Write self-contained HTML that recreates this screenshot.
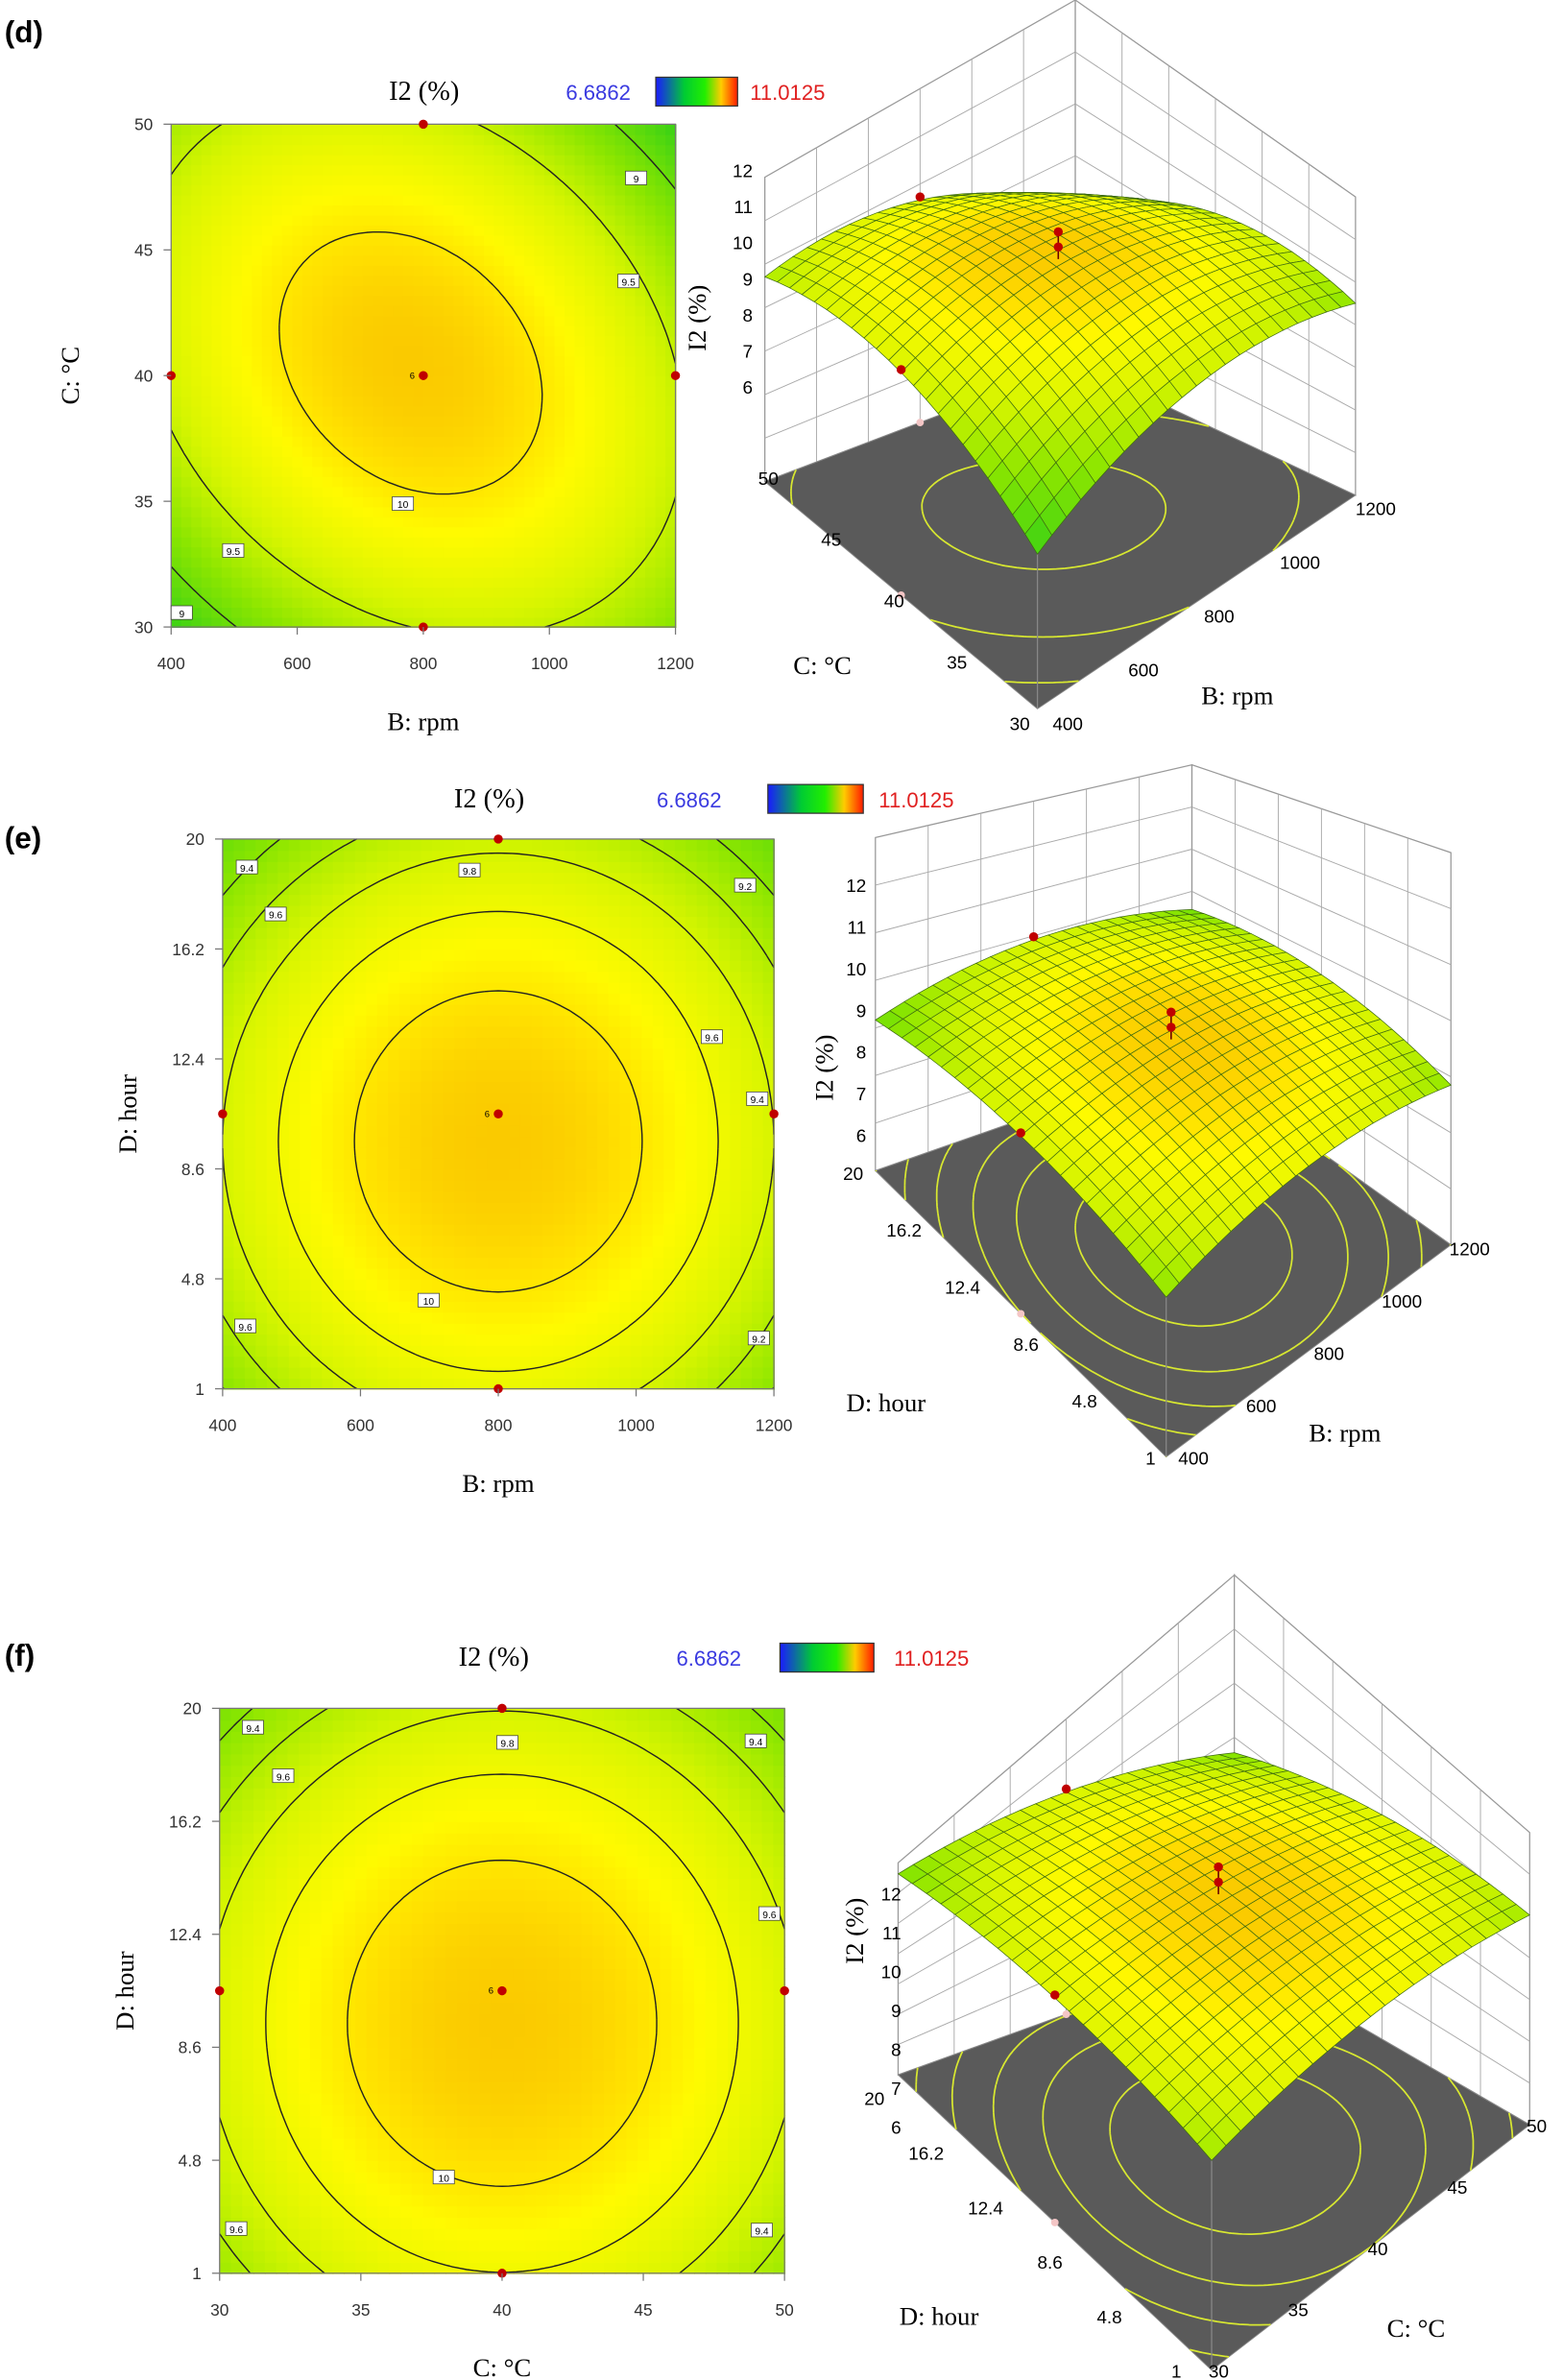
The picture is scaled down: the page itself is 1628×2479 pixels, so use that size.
<!DOCTYPE html>
<html><head><meta charset="utf-8"><style>
html,body{margin:0;padding:0;background:#fff;}
svg{display:block;font-family:"Liberation Serif",serif;}
.sans{font-family:"Liberation Sans",sans-serif;}
</style></head><body>
<svg id="fig" xmlns="http://www.w3.org/2000/svg" width="1628" height="2479" viewBox="0 0 1032 1571.5" preserveAspectRatio="none">
<defs>
<linearGradient id="cbar" x1="0" x2="1" y1="0" y2="0">
<stop offset="0" stop-color="#1a1aff"/><stop offset="0.35" stop-color="#00cc33"/><stop offset="0.6" stop-color="#22ee00"/><stop offset="0.8" stop-color="#ffcc00"/><stop offset="1" stop-color="#ff1a00"/>
</linearGradient>
</defs>
<g id="root"></g>
</svg>
<script>
// ---- data ----
const bTicks=["400","600","800","1000","1200"];
const cTicks=["30","35","40","45","50"];
const dTicks=["1","4.8","8.6","12.4","16.2","20"];
const zTicks=["12","11","10","9","8","7","6"];
const levelsD=[9,9.5,10];
const levelsE=[9.2,9.4,9.6,9.8,10];
const levelsF=[9.2,9.4,9.6,9.8,10];
const modelD={M:10.15,qx:0.59,qy:0.59,c:0.3,x0:-0.05,y0:0.05};
const modelE={M:10.15,qx:0.55,qy:0.5,c:0,x0:0,y0:-0.1};
const modelF={M:10.15,qx:0.5,qy:0.45,c:0,x0:0,y0:-0.115};
const designU=[0,0.5,1,0.5,0.5];
const designV=[0.5,1,0.5,0,0.5];

const NS="http://www.w3.org/2000/svg";
const root=document.getElementById('root');
function el(tag,attrs,parent){const e=document.createElementNS(NS,tag);for(const k in attrs)e.setAttribute(k,attrs[k]);(parent||root).appendChild(e);return e;}
function txt(s,x,y,attrs,parent){const t=el('text',Object.assign({x:x,y:y},attrs||{}),parent);t.textContent=s;return t;}
function f(m,x,y){const dx=x-m.x0,dy=y-m.y0;return m.M-m.qx*dx*dx-m.qy*dy*dy-m.c*dx*dy;}
const cs=[[8.7,[60,210,20]],[9.2,[140,230,0]],[9.6,[215,245,0]],[9.9,[255,250,0]],[10.05,[255,222,0]],[10.2,[248,192,0]]];
function color(v){if(v<=cs[0][0])return 'rgb(60,210,20)';
 for(let i=0;i<cs.length-1;i++){const a=cs[i],b=cs[i+1];if(v<=b[0]){const s=(v-a[0])/(b[0]-a[0]);
 return 'rgb('+a[1].map((c,j)=>Math.round(c+(b[1][j]-c)*s)).join(',')+')';}}return 'rgb(248,192,0)';}
function contourPath(m,L,N,map){let d='';
 const val=(i,j)=>f(m,2*i/N-1,2*j/N-1);
 for(let i=0;i<N;i++)for(let j=0;j<N;j++){
  const P=[[i,j],[i+1,j],[i+1,j+1],[i,j+1]];const V=P.map(p=>val(p[0],p[1]));const pts=[];
  for(let k=0;k<4;k++){const a=V[k],b=V[(k+1)%4];if((a-L)*(b-L)<0){const s=(L-a)/(b-a);const p=P[k],q=P[(k+1)%4];
   pts.push(map((p[0]+(q[0]-p[0])*s)/N,(p[1]+(q[1]-p[1])*s)/N));}}
  for(let k=0;k+1<pts.length;k+=2)d+='M'+pts[k][0].toFixed(1)+' '+pts[k][1].toFixed(1)+'L'+pts[k+1][0].toFixed(1)+' '+pts[k+1][1].toFixed(1);}
 return d;}

function contour2D(p){
 const g=el('g',{});
 
 
 const W=p.x1-p.x0,H=p.y1-p.y0,N=50;
 const map=(u,v)=>[p.x0+u*W,p.y1-v*H];
 for(let i=0;i<N;i++)for(let j=0;j<N;j++){
  const v=f(p.m,2*(i+0.5)/N-1,2*(j+0.5)/N-1);
  el('rect',{x:p.x0+i*W/N,y:p.y1-(j+1)*H/N,width:W/N+0.6,height:H/N+0.6,fill:color(v)},g);}
 p.levels.forEach(L=>{const c=el('path',{d:contourPath(p.m,L,80,map),stroke:'#222',fill:'none','stroke-width':0.9},g);
  
  });
 el('rect',{x:p.x0,y:p.y0,width:W,height:H,fill:'none',stroke:'#777','stroke-width':0.8},g);
 p.labels.forEach(l=>{el('rect',{x:l[0]-7,y:l[1]-5,width:14,height:9,fill:'#fff',stroke:'#444','stroke-width':0.5},g);
  txt(l[2],l[0],l[1]+2.5,{'font-size':6.5,'text-anchor':'middle',class:'sans'},g);});
 for(let k=0;k<designU.length;k++){const q=map(designU[k],designV[k]);
  const dot=el('circle',{cx:q[0],cy:q[1],r:3,fill:'#c00000'},g);
  
  }
 const cq=map(0.5,0.5);txt('6',cq[0]-9,cq[1]+2,{'font-size':6,class:'sans'},g);
 p.xt.forEach((s,i)=>{const x=p.x0+i*W/(p.xt.length-1);el('line',{x1:x,x2:x,y1:p.y1,y2:p.y1+5,stroke:'#777','stroke-width':0.8},g);
  txt(s,x,p.y1+28,{'font-size':11,'text-anchor':'middle',class:'sans',fill:'#333'},g);});
 p.yt.forEach((s,i)=>{const y=p.y1-i*H/(p.yt.length-1);el('line',{x1:p.x0-5,x2:p.x0,y1:y,y2:y,stroke:'#777','stroke-width':0.8},g);
  txt(s,p.x0-12,y+4,{'font-size':11,'text-anchor':'end',class:'sans',fill:'#333'},g);});
 const xt=txt(p.xTitle,(p.x0+p.x1)/2,p.y1+68,{'font-size':17,'text-anchor':'middle'},g);
 
 
 const yt=txt(p.yTitle,0,0,{'font-size':17,'text-anchor':'middle',transform:'translate('+p.ytx+','+((p.y0+p.y1)/2)+') rotate(-90)'},g);
 
 
}

function surface3D(p){
 const g=el('g',{});
 
 
 const F=p.F;
 const floor=(u,v)=>[F[0][0]*(1-u)*(1-v)+F[1][0]*u*(1-v)+F[2][0]*(1-u)*v+F[3][0]*u*v,
                    F[0][1]*(1-u)*(1-v)+F[1][1]*u*(1-v)+F[2][1]*(1-u)*v+F[3][1]*u*v];
 const surf=(u,v)=>{const q=floor(u,v);return [q[0],q[1]-p.k*(f(p.m,2*u-1,2*v-1)-p.zf)];};
 const T=[null,[F[1][0],p.top[2]],[F[2][0],p.top[0]],[F[3][0],p.top[1]]];
 const wall=(A,B,TA,TB)=>{el('polygon',{points:[A,B,TB,TA].map(q=>q.join(',')).join(' '),fill:'#fff',stroke:'#999','stroke-width':0.8},g);
  for(let s=1;s<6;s++){const t=s/6;el('line',{x1:A[0]+(B[0]-A[0])*t,y1:A[1]+(B[1]-A[1])*t,x2:TA[0]+(TB[0]-TA[0])*t,y2:TA[1]+(TB[1]-TA[1])*t,stroke:'#aaa','stroke-width':0.6},g);}
  for(let s=1;s<7;s++){const t=s/7;el('line',{x1:A[0]+(TA[0]-A[0])*t,y1:A[1]+(TA[1]-A[1])*t,x2:B[0]+(TB[0]-B[0])*t,y2:B[1]+(TB[1]-B[1])*t,stroke:'#aaa','stroke-width':0.6},g);}};
 wall(F[2],F[3],T[2],T[3]);wall(F[3],F[1],T[3],T[1]);
 const fl=el('polygon',{points:[F[0],F[1],F[3],F[2]].map(q=>q.join(',')).join(' '),fill:'#5a5a5a',stroke:'#888','stroke-width':0.6},g);
 
 
 p.levels.forEach(L=>el('path',{d:contourPath(p.m,L,60,floor),stroke:'#d8e830',fill:'none','stroke-width':1.1},g));
 [[0,0.5],[0.5,1]].forEach(q=>{const a=floor(q[0],q[1]);el('circle',{cx:a[0],cy:a[1],r:2.5,fill:'#f4c6c6'},g);});
 const s00=surf(0,0);el('line',{x1:F[0][0],y1:F[0][1],x2:s00[0],y2:s00[1],stroke:'#888','stroke-width':0.8},g);
 const n=22;const quads=[];
 for(let i=0;i<n;i++)for(let j=0;j<n;j++)quads.push([i,j]);
 quads.sort((a,b)=>(b[0]+b[1])-(a[0]+a[1]));
 quads.forEach(([i,j])=>{const u0=i/n,u1=(i+1)/n,v0=j/n,v1=(j+1)/n;
  const pts=[surf(u0,v0),surf(u1,v0),surf(u1,v1),surf(u0,v1)];
  el('polygon',{points:pts.map(q=>q[0].toFixed(1)+','+q[1].toFixed(1)).join(' '),fill:color(f(p.m,2*(i+0.5)/n-1,2*(j+0.5)/n-1)),stroke:'#3d6b10','stroke-width':0.45},g);});
 [[0,0.5],[0.5,1]].forEach(q=>{const a=surf(q[0],q[1]);el('circle',{cx:a[0],cy:a[1]-2,r:3,fill:'#c00000'},g);});
 const c=surf(0.5,0.5);
 el('line',{x1:c[0],y1:c[1]-14,x2:c[0],y2:c[1]+6,stroke:'#600','stroke-width':1},g);
 el('circle',{cx:c[0],cy:c[1]-12,r:3,fill:'#c00000'},g);el('circle',{cx:c[0],cy:c[1]-2,r:3,fill:'#c00000'},g);
 zTicks.forEach((s,i)=>txt(s,p.zx,p.z12+i*(p.z6-p.z12)/(zTicks.length-1),{'font-size':12,'text-anchor':'end',class:'sans'},g));
 p.vt.forEach((s,i)=>{const q=p.vpos(i);txt(s,q[0],q[1],{'font-size':12,'text-anchor':'end',class:'sans'},g);});
 p.ut.forEach((s,i)=>{const q=p.upos(i);txt(s,q[0],q[1],{'font-size':12,'text-anchor':'start',class:'sans'},g);});
 const zt=txt('I2  (%)',0,0,{'font-size':17,'text-anchor':'middle',transform:'translate('+p.zt[0]+','+p.zt[1]+') rotate(-90)'},g);
 
 
 txt(p.vTitle,p.vtp[0],p.vtp[1],{'font-size':17,'text-anchor':'middle'},g);
 txt(p.uTitle,p.utp[0],p.utp[1],{'font-size':17,'text-anchor':'middle'},g);
}
function lin(a,b,n){return i=>[a[0]+(b[0]-a[0])*i/(n-1),a[1]+(b[1]-a[1])*i/(n-1)];}

function header(tag,ty,title,tx,lx,bx,bw,rx,y){
 const t=txt(tag,3,ty,{'font-size':20,'font-weight':'bold',class:'sans'});
 
 
 txt(title,tx,y,{'font-size':18,'text-anchor':'middle'});
 txt('6.6862',lx,y,{'font-size':14,fill:'#3a3ae0','text-anchor':'middle',class:'sans'});
 const cb=el('rect',{x:bx,y:y-15,width:bw,height:19,fill:'url(#cbar)',stroke:'#333','stroke-width':0.8});
 
 
 txt('11.0125',rx,y,{'font-size':14,fill:'#e02020','text-anchor':'middle',class:'sans'});
}
header('(d)',28,'I2 (%)',280,395,433,54,520,66);
header('(e)',560,'I2 (%)',323,455,507,63,605,533);
header('(f)',1100,'I2 (%)',326,468,515,62,615,1100);

contour2D({name:'contour-plot-d',m:modelD,x0:113,x1:446,y0:82,y1:414,levels:levelsD,xt:bTicks,yt:cTicks,xTitle:'B: rpm',yTitle:'C: °C',ytx:52,
 labels:[[266,333,'10'],[415,186,'9.5'],[154,364,'9.5'],[420,118,'9'],[120,405,'9']]});
contour2D({name:'contour-plot-e',m:modelE,x0:147,x1:511,y0:554,y1:917,levels:levelsE,xt:bTicks,yt:dTicks,xTitle:'B: rpm',yTitle:'D: hour',ytx:90,
 labels:[[283,859,'10'],[310,575,'9.8'],[182,604,'9.6'],[470,685,'9.6'],[162,876,'9.6'],[163,573,'9.4'],[500,726,'9.4'],[492,585,'9.2'],[501,884,'9.2']]});
contour2D({name:'contour-plot-f',m:modelF,x0:145,x1:518,y0:1128,y1:1501,levels:levelsF,xt:cTicks,yt:dTicks,xTitle:'C: °C',yTitle:'D: hour',ytx:88,
 labels:[[293,1438,'10'],[335,1151,'9.8'],[187,1173,'9.6'],[508,1264,'9.6'],[156,1472,'9.6'],[167,1141,'9.4'],[499,1150,'9.4'],[503,1473,'9.4']]});

surface3D({name:'surface-plot-d',m:modelD,F:[[685,468],[895,327],[505,318],[710,240]],top:[117,0,130],k:48,zf:6.54,levels:[8.5,9,9.5,10],
 zx:497,z12:117,z6:260,vt:cTicks.slice().reverse(),vpos:lin([514,320],[680,482],5),ut:bTicks,upos:lin([695,482],[895,340],5),
 zt:[466,210],vTitle:'C: °C',vtp:[543,445],uTitle:'B: rpm',utp:[817,465]});
surface3D({name:'surface-plot-e',m:modelE,F:[[770,962],[958,822],[578,773],[787,700]],top:[553,505,563],k:30,zf:5.68,levels:[8.8,9,9.2,9.4,9.6,9.8,10],
 zx:572,z12:589,z6:754,vt:dTicks.slice().reverse(),vpos:lin([570,779],[763,967],6),ut:bTicks,upos:lin([778,967],[957,829],5),
 zt:[550,705],vTitle:'D: hour',vtp:[585,932],uTitle:'B: rpm',utp:[888,952]});
surface3D({name:'surface-plot-f',m:modelF,F:[[800,1565],[1010,1403],[593,1370],[815,1290]],top:[1230,1040,1210],k:28,zf:4.35,levels:[8.8,9,9.2,9.4,9.6,9.8,10],
 zx:595,z12:1255,z6:1409,vt:dTicks.slice().reverse(),vpos:lin([584,1390],[780,1570],6),ut:cTicks,upos:lin([798,1570],[1008,1408],5),
 zt:[570,1275],vTitle:'D: hour',vtp:[620,1535],uTitle:'C: °C',utp:[935,1543]});
</script>
</body></html>
